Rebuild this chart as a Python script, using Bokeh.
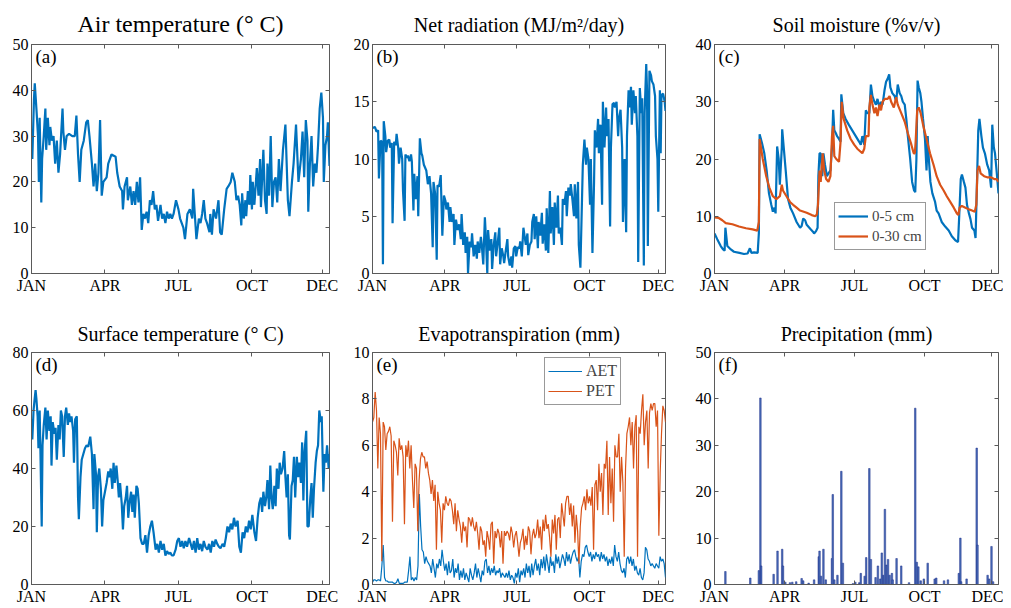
from bokeh.plotting import figure
from bokeh.models import Range1d, FixedTicker, LinearAxis, Label, Legend, LegendItem
from bokeh.layouts import row, column
from bokeh.embed import file_html
from bokeh.resources import INLINE

FONT = "Liberation Serif"
BLUE = "#0072BD"
ORANGE = "#D95319"
AXC = "#5a5a5a"

month_ticks = [0, 90, 180, 270, 356]
month_labels = ["JAN", "APR", "JUL", "OCT", "DEC"]

# (a) Air temperature
air_day = [0,1,3,4,6,8,9,10,12,13,15,17,18,20,22,23,25,27,29,31,33,35,38,39,41,43,46,50,53,55,57,59,61,64,67,69,71,74,76,78,80,82,84,86,88,92,94,98,103,105,108,111,112,114,117,118,121,123,125,127,129,131,133,135,137,139,141,143,145,147,149,151,153,155,158,160,162,164,166,168,170,172,174,177,180,182,184,186,188,191,194,197,198,200,202,205,207,209,211,213,215,218,219,221,223,226,229,231,233,236,239,241,244,246,249,251,253,255,257,258,260,262,263,265,267,268,270,271,273,276,278,280,281,284,286,288,289,291,293,295,297,299,301,303,305,308,311,314,316,319,321,324,327,330,332,334,336,338,339,341,343,345,347,349,351,353,355,357,358,360,362,363,365]
air_temp = [29,25,38,41.5,36,30,20,34,15.5,25,30,36,27,34,28,32,29,30,24,29,22,26,36,31,27,30,30.5,30,30,34.5,26,20,27,29,33,33.5,30,24,19,24,18,22,33.5,17,20,21,24,26,25.5,22,19,18,14,19,21,16,19,15,18,15,20,15.5,21,9.5,13,12,13.5,11,16,15,18,14,15,11.5,15,12,13,11,13.5,12,13,12,13,16,14,12,11,10,7.5,13,14,12,18.5,13,7.5,12,11,13,16,12,11,9,13,8.5,14,12,16,9,8.5,14,18.5,19,20,22,20,16,17,15,10.5,17.5,12,16,12.5,18,15,21.5,14,20,15,23,17,25,14.5,27,16,13,24,17,30,14.5,20,21,15.5,25,18,27,32.5,16,12.5,20,24,32.5,20,25,31,21,33.5,29,13.5,24,30,19,24,22,28,36,39.5,34,20,28,30,33,23.5]

# (b) Net radiation
rad_day = [0,3,5,7,8,10,12,13,14,16,17,19,21,22,24,25,27,29,30,32,33,35,37,38,40,41,43,44,46,48,49,51,52,54,56,57,59,61,62,64,67,69,71,73,75,76,78,80,81,83,85,87,89,91,92,94,96,97,99,101,102,104,106,108,110,111,113,115,116,118,119,121,123,124,126,128,130,131,133,135,136,138,140,141,143,144,146,148,149,151,153,154,156,158,159,161,163,164,166,168,169,171,173,174,176,178,179,181,183,184,186,188,189,191,193,194,196,198,199,201,202,204,206,207,209,211,212,214,216,217,219,221,222,224,226,227,229,231,232,234,236,237,239,241,242,244,246,247,249,251,252,254,256,257,259,261,262,264,266,267,269,271,272,274,276,277,279,281,282,284,286,287,289,291,292,294,296,297,299,301,302,304,306,307,309,311,312,314,316,317,319,320,322,323,325,327,328,330,331,333,335,336,338,339,341,342,343,345,347,348,350,352,353,355,356,358,359,360,362,364,365]
rad_val = [12.7,12.8,12.4,12.5,8.3,11.6,11.5,0.8,13.3,12,10.6,11.6,11.7,11,11.4,4.4,11.5,11.2,12.2,11,9.6,11,10,7.2,4.6,10.4,10.1,10.3,9.8,10.4,9.8,5.5,8.7,6.5,8.5,5,11.8,10.5,10.3,9.5,9,7.8,8.5,7,2.3,8,7,1.2,7.7,7.6,8.6,3.3,6.8,6.3,5.6,6.2,4.5,5.8,4.5,5.2,2.5,4.7,3.8,4.3,3,5.2,2.5,3.6,1.8,3.2,0,2.8,2.3,3.5,1.5,2.5,1.3,2.8,1.8,3.2,2.6,0.8,4.9,3.5,0,3.8,2,3,0.4,2.5,3.6,1.5,2.7,4,0.8,2.2,1.5,0.9,2,3,1.5,0.7,1.5,0.5,2.2,2.4,1.5,2.3,2.2,2.8,1.5,4,3.5,2.5,3.5,1.6,2.5,2.8,4.5,5.2,3,5,2.2,4.5,3.3,5.3,2.6,4.3,2,5.7,1.8,7.2,3.5,5.8,2.5,6.2,4,6.8,3.5,4,2.5,6.5,6,7.2,5,7.5,6.8,7.8,6.5,5,7.8,4.8,8,2.5,0.5,6.5,9.5,11.7,9.5,11,10,6,10,1.8,8,12.5,11,13.5,10.5,13,6,15,11,14.5,12,13.5,4.1,11,14.8,14.9,14.5,15,12,13.5,14.3,11,4.5,10,3.6,12,16,14.5,16.3,13,16,14,15.5,12,1,16.2,14,15.3,0.7,14,18.3,16,2.4,17.7,17.3,16.8,16.5,15.5,12,10,5.4,16,10.5,15.6,15.7,15,14.2]

# (c) Soil moisture
sm5_day = [0,3.5,8,11,13,14,16.5,21,25,32,38,42.5,45.5,47.5,51,55.5,57,58,61,64,67,70,73,75,77,78.5,80.5,82.5,84,86.5,87,89,91.5,94.5,97.5,101,105.5,110,112,114,116.5,118.5,123,126.5,128,130.5,132.5,133.5,135,136.5,138.5,140,142,144.5,146.5,149,151,152.5,154,156,157.5,160,162,163,165.5,168.5,172.5,177,181.5,186,188,190,192.5,194.5,196.5,199,201,203,205.5,207.5,209.5,212,214,216,218.5,220.5,222.5,224.5,226,228.5,231.5,233.5,235.5,238,240,242,244.5,246.5,248.5,251.5,254,256.5,258,259.5,261,262.5,264.5,266,268,270.5,272.5,274,275.5,277.5,280,283.5,285.5,288,292,296.5,301,305,309.5,313,314.5,316.5,318,320.5,322.5,324.5,327,329,331,334,335.5,337,339,340.5,343,345,347.5,350.5,353,355.5,357,359,360.5,362.5,365]
sm5_val = [7,6,4.8,4.2,4,8,4.8,4.2,3.8,3.6,3.4,3.5,4.4,3.6,3.7,3.6,7,24.3,22.8,21,18,14,12,10.8,11.5,10.5,22.2,20,15.5,22,25.2,22,18,13,11.5,10.5,9,8,8.3,9.6,9.3,8.5,7.8,7.3,7,7.4,8,17,21,21,17,21,19,17,17.5,18,22,28.6,25,24.5,24,23.5,23,31.3,28,27,26,25,24,23,22.5,24,22.5,28.5,28,28,33,31,30,29.5,30.5,29,30,29.5,32,33.5,34,34.8,32.5,31.5,31,30,33,31.5,31,30,29.5,27,24,20,16,14.5,14.2,20,33.7,32.5,31.5,30,27,23.5,18,24,20,16,14,12.5,11,10.5,9,8.2,7.5,6.5,5.8,5.5,10,16.5,17.3,16,15,12,10.5,9.5,8,7.5,6.2,14,25,27,24,22,21,19,18,15,26,22,21,18,14]
sm30_day = [0,5.5,10,14.5,23,31.5,40.5,49,55,57,58,62,66.5,70.5,75,79.5,84,86.5,88,92.5,97,101,105.5,110,118.5,125,129.5,131.5,133,135,136.5,139,141,143.5,146.5,149,151,152.5,154,156.5,160,162,163.5,166,170.5,175,179.5,183.5,190,192.5,194.5,198,199,201,203,205.5,207.5,209.5,212,214,216,219,222.5,225,227,230.5,233.5,235.5,240,244.5,248.5,253,256,257.5,258.5,260.5,262.5,265,268,272.5,277,281.5,285.5,290,294.5,298.5,303,307.5,311.5,313.5,315,318,322.5,327,331,334.5,336.5,338,340,342,346.5,350.5,355,359.5,362.5,365]
sm30_val = [9.8,9.7,9.3,8.8,8.6,8.2,7.9,7.7,7.5,9,23.5,20,17,15,13.5,13,13.5,15.5,14.5,13.5,12.5,12,11.5,11,10.6,10.2,10,10.3,12,18,16,21,18,16.5,16,17,24,25.8,20.5,20,19.5,23,30,27,25,23.5,22.5,21.8,21,21.8,24,24,29,31.2,29.5,28,29,27.5,29.5,28.5,30,30.5,30.5,31,30,29,30.8,29.5,28,26.5,24.5,22.5,21,21,23,28.5,29,28,26,23.5,21,19,17,15.5,14.5,13.5,12.5,11.5,10.5,10.2,11.5,11.8,11.5,11.2,11,10.8,12,18,18.8,17.5,17,16.8,16.8,16.5,16.5,16]

# (d) Surface temperature
sfc_day = [0,1,2.5,3.5,5,6,7.5,8.5,10,11,12.5,13.5,15,17,18.5,20,22,23.5,24.5,26,28,29.5,31,33,34.5,36,37.5,39.5,41,42.5,44.5,46,47.5,49,51,52,53.5,55.5,57,58,60,61.5,63.5,65.5,67.5,69.5,72,74,76,77,79,80,81.5,83,85,86.5,88,90,92,94,95.5,97,99,100.5,102,104,105.5,107,108.5,110.5,112,113.5,115.5,117,118.5,120,122,123.5,125,126.5,128.5,130,131.5,133.5,135.5,137.5,139.5,141.5,143.5,145.5,147.5,149.5,152,154,156,158,160,162,164,166,168,170,172,174,176.5,178.5,180.5,182.5,184.5,186.5,188.5,190.5,193,195,197,199,201,203,205,207,209,211,213,215.5,217.5,219.5,221.5,223.5,225.5,227.5,229.5,231.5,234,236,238,240,242,244,246,248,250,252.5,254.5,256.5,258.5,260.5,262.5,264.5,266.5,268.5,270.5,273,275,277,279,281,282.5,284,286,287.5,289,291,292.5,294,295.5,297.5,299,300.5,302.5,304,305.5,307.5,309.5,311,312.5,314,315.5,316.5,318.5,320,321.5,323,325,326.5,328,330,331.5,333,334.5,336.5,338,339.5,341.5,343,344.5,346,348,349.5,351,352.5,354.5,355.5,357.5,359,360.5,362,364,365]
sfc_val = [57,50,60,63,67,64,58,47,60,45,20,48,55,61,50,60,53,58,41,56,52,54,43,55,50,60,58,44,58,61,55,59,56,58,53,42,57,58,30,22.5,37,43,45,47,48,47.5,51,45,26,45,38,18,37,40,33,20,29,32,35,39,37,40,33,42,35,41,36,30,35,28,19,27,30,34,23,28,32,25,31,23,34,33,28,16,14,14,17,11,17,20,22,18,12,14,11,15,12,14,10,11.5,10.5,11,10,10,12,15,16,13,15,12.5,15,13,16,14,12,15,11,16,12,14,11.5,15,13,12,14,11,15,13,15.5,14,13,12.5,14,13,16,20,18,21,19,23,20,22,13,11,18,16,20,18,22,19,24,18,15,23,28,30,25,32,27,30,36,26,41,30,26,34,27,40,33,42,38,40,46,37,30,38,17,15.5,34,36,44,30,44,37,42,35,49,29,46,53,20,20,30,35,23,33,42,46,48,60,56,58,32,45,42,48,40,45]

# (e) Evapotranspiration (near-daily sequence over the year)
pet = [7,7.2,8.3,7.5,5,7.2,6.5,1,7,6.8,5.8,6.5,6.6,6.8,6.4,2.7,6.2,6,5.7,4.7,6.3,5.8,6,5.5,2.6,6,5.5,6.2,5,6,4.5,3.3,5.2,5,2.3,4.5,5.4,5.7,5.5,5.5,5,5.3,4.8,4.5,3.9,4.5,3.6,4.3,1.5,4,3.5,3.2,1.8,3.5,3.2,3.8,3.5,3.4,3.7,3.6,3.2,2.6,3.5,2.3,3.2,2.8,2.5,1.8,2.7,2.3,2.5,1.6,2.9,2.8,2.5,2.9,2.5,2.3,2.7,2.2,1.5,2.5,2.3,1.7,1.9,1.2,2.3,2,1.5,2.6,2.7,0.9,2.3,2,2.4,2.2,1.6,2.3,0.9,2.3,2.1,2.3,2.2,1.9,2.5,2.2,1.6,2.1,2.3,1.8,1.2,1.8,2,2.4,1.5,2.1,1.7,2.5,2.3,1.3,2.1,2.4,2,2.2,2.8,2,2.5,1.5,2.8,2.3,3,2.4,2.6,2,1.2,2.8,2.2,3,1.5,2.8,2.9,2,3.5,3,2.5,3.5,3.8,3.8,3,3.5,2.5,3.4,1.8,3,2.3,0.9,2.5,3.3,3.5,3.8,3.2,4.1,3.5,3.8,3.4,4.2,1.5,4.3,4.5,3.2,5.2,4,4.8,3,5.2,5,6.2,3,5.5,3.5,5,2.7,6,5.5,5.5,6.5,4,5.5,4.4,1.2,5,6.5,6.8,7.2,6,7,5,6.8,7.3,1.2,6.8,6.5,7.5,8.2,6,7,7.5,5,7.4,7.8,7.5,7.8,7.8,6.8,7.5,2.1,4.8,6.5,7.7,7.5,7]
aet = [0.1,0.2,0.2,0.15,0.2,0.2,0.15,0.8,1.7,0.3,0.15,0.15,0.1,0.1,0.1,0.1,0.05,0.05,0.1,0.25,0.05,0.05,0.05,0.05,0.1,0.1,0.1,0.6,1.2,0.2,0.3,0.15,0.3,0.2,0.8,3.9,2.5,1.5,1.4,0.9,1.2,1,0.9,0.8,0.5,1.1,0.7,0.3,0.9,0.7,1.1,0.8,1.5,1,0.6,0.9,0.4,1,0.5,0.6,1.1,0.3,0.7,0.5,0.9,0.2,0.6,0.3,0.7,0.2,0.5,0.3,0.1,0.7,0.4,0.2,0.5,0.9,0.3,0.7,0.4,0.1,0.6,0.4,1,1.1,0.5,0.8,0.4,0.7,0.5,0.8,0.4,0.6,0.5,0.7,0.3,0.5,0.4,0.3,0.5,0.3,0.6,0.2,0.4,0.3,0.05,0.5,0.3,0.7,0.1,0.6,0.4,0.7,0.3,0.9,0.5,0.8,0.3,0.9,0.4,0.8,1.1,0.6,0.9,0.4,1.1,0.7,1.2,0.6,1.3,0.9,0.5,1.2,0.8,1,0.5,1.3,0.9,1.2,0.7,1,1.3,1.1,0.8,1.4,1,1.3,0.9,1.2,1.4,1.5,1.2,1,1.2,0.3,1,1.3,1.2,1.6,1.7,1.4,1.2,1.4,1,1.3,1.1,1.4,1.2,1.3,1,1.4,1.1,1.3,1,1.2,0.8,1.1,0.9,1.2,0.8,1.7,1.2,1,1.4,0.9,0.6,0.5,0.7,0.3,1.1,1.2,0.9,1.2,0.8,1.1,0.6,0.8,0.5,0.4,0.7,0.3,0.2,0.5,1.6,1.5,1.1,1,0.8,0.9,0.8,0.7,0.9,0.8,0.7,1.2,1,1.1,0.9,0.3]

# (f) Precipitation
precip_day = [14,46,57,59,60,76,81,87,88,91,97,100,105,112,114,121,128,134,135,137,140,143,151,152,154,158,163,165,178,181,186,188,193,195,199,201,207,210,213,215,217,219,221,223,225,228,229,234,240,250,258,260,262,265,269,274,283,285,295,300,314,316,317,324,337,338,351,353,356,358]
precip = [2.8,1.4,3,40.2,4,2.2,7.2,7.6,4,0.5,0.4,0.5,0.6,1.3,0.8,0.3,1,6,7.2,1.8,7.6,1,5.6,19.4,1,2,24.4,4.6,0.2,0.5,0.4,2.4,1.8,5.8,25,5.4,1.5,4,1.2,6.8,2,16.2,4.2,5.4,2,2.4,1,5.6,4,0.4,38,4.8,3.8,0.8,1.2,4.6,1.2,1.4,0.8,1,2.4,10,0.6,1.2,29.4,8.5,2,1.2,8.2,0.6]


def seq_days(n):
    step = 365.0 / (n - 1)
    return [i * step for i in range(n)]


def make(title, ymax, ystep, letter, fw, fh, lb, rb, tb, bb, title_size="20px", standoff=17):
    p = figure(frame_width=fw, frame_height=fh, min_border_left=lb, min_border_right=rb,
               min_border_top=tb, min_border_bottom=bb,
               x_range=Range1d(0, 365), y_range=Range1d(0, ymax),
               toolbar_location=None, output_backend="svg", title=title)
    p.title.text_font = FONT
    p.title.text_font_size = title_size
    p.title.text_font_style = "normal"
    p.title.align = "center"
    p.title.text_color = "black"
    p.title.standoff = standoff
    p.xgrid.visible = False
    p.ygrid.visible = False
    p.outline_line_color = AXC
    p.outline_line_alpha = 1
    p.background_fill_color = "white"
    p.border_fill_color = "white"
    yt = list(range(0, ymax + 1, ystep))
    p.xaxis.ticker = FixedTicker(ticks=month_ticks)
    p.xaxis.major_label_overrides = dict(zip(month_ticks, month_labels))
    p.yaxis.ticker = FixedTicker(ticks=yt)
    for ax in (p.xaxis[0], p.yaxis[0]):
        ax.major_label_text_font = FONT
        ax.major_label_text_font_size = "16px"
        ax.major_label_text_color = "black"
        ax.axis_line_color = AXC
        ax.major_tick_line_color = AXC
        ax.major_tick_in = 4
        ax.major_tick_out = 0
        ax.minor_tick_line_color = None
    p.xaxis.major_label_standoff = 3
    p.yaxis.major_label_standoff = 3
    top = LinearAxis(ticker=FixedTicker(ticks=month_ticks), major_label_text_font_size="1px",
                     major_label_text_color=None, major_label_standoff=0,
                     major_tick_in=4, major_tick_out=0,
                     minor_tick_line_color=None, axis_line_color=None, major_tick_line_color=AXC)
    right = LinearAxis(ticker=FixedTicker(ticks=yt), major_label_text_font_size="1px",
                       major_label_text_color=None, major_label_standoff=0,
                       major_tick_in=4, major_tick_out=0,
                       minor_tick_line_color=None, axis_line_color=None, major_tick_line_color=AXC)
    p.add_layout(top, "above")
    p.add_layout(right, "right")
    p.add_layout(Label(x=0, y=ymax, x_offset=4, y_offset=-1, text=letter, text_baseline="top",
                       text_font=FONT, text_font_size="19px", text_color="black"))
    return p


def style_legend(lg, size, gw):
    lg.label_text_font = FONT
    lg.label_text_font_size = size
    lg.border_line_color = "#333333"
    lg.border_line_width = 1
    lg.background_fill_alpha = 1
    lg.padding = 3
    lg.spacing = 0
    lg.margin = 0
    lg.label_standoff = 4
    lg.glyph_width = gw


# Row 1
pa = make("Air temperature (° C)", 50, 10, "(a)", 298, 229, 31, 20, 43, 26, title_size="24px", standoff=16)
pa.line(air_day, air_temp, line_width=2.2, color=BLUE)

pb = make("Net radiation (MJ/m²/day)", 20, 5, "(b)", 293, 229, 23, 26, 43, 26, standoff=18)
pb.line(rad_day, rad_val, line_width=2.2, color=BLUE)

pc = make("Soil moisture (%v/v)", 40, 10, "(c)", 284, 229, 23, 5, 43, 26, standoff=18)
r5 = pc.line(sm5_day, sm5_val, line_width=2.2, color=BLUE)
r30 = pc.line(sm30_day, sm30_val, line_width=2.2, color=ORANGE)
lc = Legend(items=[LegendItem(label="0-5 cm", renderers=[r5]),
                   LegendItem(label="0-30 cm", renderers=[r30])], location=(120, 23))
style_legend(lc, "15px", 30)
pc.add_layout(lc)

# Row 2
pd_ = make("Surface temperature (° C)", 80, 20, "(d)", 298, 232, 31, 20, 53, 23, standoff=16)
pd_.line(sfc_day, sfc_val, line_width=2.2, color=BLUE)

pe = make("Evapotranspiration (mm)", 10, 2, "(e)", 293, 232, 23, 26, 53, 23, standoff=16)
ra = pe.line(seq_days(len(aet)), aet, line_width=1.2, color=BLUE)
rp = pe.line(seq_days(len(pet)), pet, line_width=1.2, color=ORANGE)
le = Legend(items=[LegendItem(label="AET", renderers=[ra]),
                   LegendItem(label="PET", renderers=[rp])], location=(172, 179))
style_legend(le, "16px", 34)
pe.add_layout(le)

pf = make("Precipitation (mm)", 50, 10, "(f)", 284, 232, 23, 5, 53, 23, standoff=16)
pf.vbar(x=precip_day, top=precip, bottom=0, width=2.0, fill_color="#4A6FB8",
        line_color="#1F2F8A", line_width=0.5)

layout = column(row(pa, pb, pc), row(pd_, pe, pf))
open("out.html", "w").write(file_html(layout, INLINE))
